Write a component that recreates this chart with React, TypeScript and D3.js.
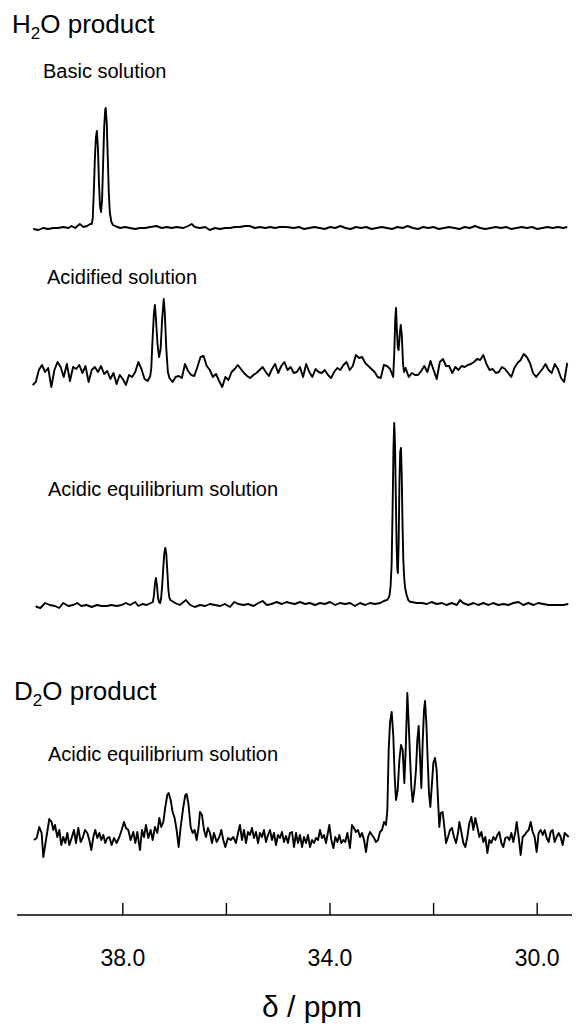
import * as d3 from "d3";

// [ppm, intensity]; intensity in arbitrary units above baseline
const basicSolution: [number, number][] = [
  [39.73, -1], [39.63, -2], [39.54, 0], [39.44, -1], [39.34, 0], [39.25, 0], [39.15, 1], [39.05, 0],
  [38.99, 2], [38.92, 0], [38.83, 4], [38.76, 1], [38.69, 2], [38.63, 4],
  [38.6, 4], [38.58, 10], [38.56, 35], [38.54, 68], [38.52, 90], [38.5, 97], [38.48, 80], [38.46, 45],
  [38.44, 22], [38.42, 16], [38.4, 28], [38.38, 65], [38.36, 100], [38.34, 118], [38.33, 120],
  [38.31, 105], [38.29, 70], [38.27, 35], [38.25, 15], [38.22, 6], [38.19, 3],
  [38.15, 2], [38.05, 0], [37.96, 1], [37.86, 0], [37.76, -1], [37.67, 0], [37.57, 0], [37.47, 1],
  [37.35, 2], [37.25, 0], [37.15, 1], [37.06, 0], [36.96, 1], [36.83, 0], [36.74, 2], [36.67, 4],
  [36.61, 1], [36.51, 0], [36.41, 1], [36.32, -2], [36.22, 0], [36.12, -1], [36.03, 0], [35.93, 0],
  [35.84, 1], [35.74, 1], [35.64, 2], [35.55, 2], [35.45, 0], [35.35, 1], [35.25, 0], [35.16, 1],
  [35.06, 0], [34.97, 1], [34.84, 1], [34.7, 0], [34.6, 1], [34.5, -1], [34.4, 0], [34.3, 1],
  [34.2, 0], [34.1, -1], [34.0, 1], [33.9, 0], [33.8, 2], [33.7, 0], [33.6, -1], [33.5, 1],
  [33.4, 0], [33.3, 1], [33.2, -1], [33.1, 0], [33.0, 1], [32.9, 0], [32.8, -1], [32.7, 1],
  [32.6, 0], [32.5, 2], [32.4, 0], [32.3, -1], [32.2, 1], [32.1, 0], [32.0, 1], [31.9, -1],
  [31.8, 0], [31.7, 1], [31.6, 0], [31.5, -1], [31.4, 1], [31.3, 0], [31.2, 2], [31.1, 0],
  [31.0, -1], [30.9, 0], [30.8, 1], [30.7, 0], [30.6, 1], [30.5, -1], [30.4, 0], [30.3, 1],
  [30.2, 0], [30.1, 1], [30.0, -1], [29.9, 0], [29.8, 1], [29.7, 0], [29.6, 1], [29.5, 0], [29.42, 1],
];

const acidifiedSolution: [number, number][] = [
  [39.74, -11], [39.68, -8], [39.62, 4], [39.56, 9], [39.5, 2], [39.44, 6], [39.38, -13], [39.32, 4],
  [39.26, 12], [39.2, 7], [39.14, -3], [39.08, 10], [39.02, -7], [38.96, 7], [38.9, 5], [38.84, 9],
  [38.78, 1], [38.72, 8], [38.66, -8], [38.6, 4], [38.54, 7], [38.48, 2], [38.42, 8], [38.36, 0],
  [38.3, 3], [38.24, -5], [38.18, 1], [38.12, -10], [38.06, -1], [38.0, -5], [37.94, -11], [37.88, -1],
  [37.82, -3], [37.76, 2], [37.7, 12], [37.64, 5], [37.58, -5], [37.52, -7],
  [37.47, -2], [37.45, 6], [37.43, 30], [37.4, 60], [37.38, 69], [37.36, 55], [37.33, 30], [37.3, 17],
  [37.27, 25], [37.24, 55], [37.21, 75], [37.19, 62], [37.16, 25], [37.13, 2],
  [37.1, -4], [37.04, -8], [36.98, -3], [36.92, -2], [36.86, -4], [36.8, 10], [36.74, 3], [36.68, -1],
  [36.62, -2], [36.56, 7], [36.5, 17], [36.44, 18], [36.38, 8], [36.32, 4], [36.26, -3], [36.2, 0],
  [36.14, -7], [36.08, -13], [36.02, -3], [35.96, -6], [35.9, 2], [35.84, 5], [35.78, 9], [35.72, 5],
  [35.66, 1], [35.6, -2], [35.54, -4], [35.48, -1], [35.42, 1], [35.36, 4], [35.3, 7], [35.24, 2],
  [35.18, -2], [35.12, 5], [35.06, 10], [35.0, 1], [34.94, 8], [34.88, 12], [34.82, 4], [34.76, 7],
  [34.7, 1], [34.64, 2], [34.58, 7], [34.52, -3], [34.46, 10], [34.4, 2], [34.34, -3], [34.28, 5],
  [34.22, 2], [34.16, 1], [34.1, 4], [34.04, -1], [33.98, -4], [33.92, 2], [33.86, 6], [33.8, 4],
  [33.74, 9], [33.68, 12], [33.62, 4], [33.56, 8], [33.5, 19], [33.44, 16], [33.38, 17], [33.32, 11],
  [33.26, 8], [33.2, 5], [33.14, 2], [33.08, -3], [33.02, -4], [32.96, 9], [32.9, 8], [32.84, 5],
  [32.78, -3], [32.76, 20], [32.74, 55], [32.725, 66], [32.71, 45], [32.69, 26], [32.675, 24],
  [32.655, 38], [32.635, 49], [32.615, 40], [32.59, 10], [32.57, 2],
  [32.54, 6], [32.48, -3], [32.42, 1], [32.36, -1], [32.3, -1], [32.24, 3], [32.18, 8], [32.12, 2],
  [32.06, 13], [32.0, 4], [31.94, -5], [31.88, 12], [31.82, 15], [31.76, 8], [31.7, 8], [31.64, 1],
  [31.58, 7], [31.52, 4], [31.46, 8], [31.4, 7], [31.34, 9], [31.28, 10], [31.22, 12], [31.16, 15],
  [31.1, 14], [31.04, 19], [30.98, 10], [30.92, 4], [30.86, 5], [30.8, 1], [30.74, 2], [30.68, 7],
  [30.62, 5], [30.56, 1], [30.5, -3], [30.44, 6], [30.38, 11], [30.32, 14], [30.26, 20], [30.2, 17],
  [30.14, 11], [30.08, 1], [30.02, -3], [29.96, 1], [29.9, 5], [29.84, 10], [29.78, 4], [29.72, 1],
  [29.66, 10], [29.6, 5], [29.54, -4], [29.48, -8], [29.42, 11],
];

const acidicEquilibriumH2O: [number, number][] = [
  [39.68, -2], [39.66, -3], [39.59, -4], [39.5, 1], [39.41, -1], [39.31, -2], [39.23, -4], [39.15, 1],
  [39.05, -2], [38.96, -1], [38.88, 1], [38.8, -2], [38.7, -1], [38.6, -3], [38.5, -1], [38.41, -2],
  [38.31, -2], [38.22, -1], [38.12, -2], [38.02, -1], [37.94, 1], [37.86, -1], [37.76, 2], [37.7, -2],
  [37.62, 0], [37.54, -1], [37.46, 1],
  [37.42, 2], [37.4, 8], [37.38, 20], [37.36, 26], [37.34, 18], [37.32, 6], [37.3, 2], [37.28, 1],
  [37.26, 6], [37.24, 18], [37.22, 35], [37.2, 50], [37.18, 56], [37.16, 50], [37.14, 32], [37.12, 14],
  [37.1, 6], [37.08, 4],
  [36.99, 1], [36.9, -1], [36.78, 4], [36.7, -1], [36.61, -3], [36.51, -1], [36.41, -2], [36.32, 0],
  [36.22, -1], [36.12, -2], [36.03, 0], [35.93, -3], [35.85, 2], [35.77, 0], [35.67, -1], [35.58, 0],
  [35.48, -2], [35.38, 1], [35.3, 3], [35.22, -1], [35.13, 0], [35.03, 2], [34.93, 0], [34.84, 2],
  [34.77, 1], [34.68, 0], [34.58, 2], [34.48, 0], [34.39, 1], [34.29, -1], [34.19, 1], [34.1, 0],
  [34.0, 2], [33.9, -1], [33.81, 1], [33.71, 0], [33.61, 1], [33.52, -2], [33.42, 1], [33.32, -1],
  [33.23, 1], [33.13, 0], [33.03, 1], [32.96, 3],
  [32.9, 4], [32.87, 6], [32.85, 9], [32.83, 18], [32.81, 40], [32.79, 100], [32.775, 155], [32.76, 181],
  [32.745, 160], [32.73, 110], [32.715, 60], [32.7, 35], [32.69, 31], [32.675, 60], [32.66, 120],
  [32.645, 152], [32.63, 156], [32.615, 130], [32.6, 80], [32.585, 45], [32.57, 28], [32.55, 16],
  [32.52, 9], [32.49, 4], [32.45, 2],
  [32.42, 2], [32.33, 1], [32.23, 1], [32.13, 0], [32.04, 2], [31.94, 0], [31.84, 1], [31.75, -1],
  [31.65, 1], [31.55, -1], [31.49, 4], [31.43, 1], [31.33, -1], [31.23, 1], [31.14, -1], [31.04, 1],
  [30.94, -1], [30.85, 1], [30.75, -1], [30.65, 0], [30.56, -1], [30.46, 1], [30.36, 2], [30.27, -1],
  [30.17, 1], [30.07, -1], [29.98, 1], [29.88, 0], [29.78, -1], [29.69, -1], [29.59, -1], [29.5, -1],
  [29.4, 0],
];

const acidicEquilibriumD2O: [number, number][] = [
  [39.715, 0], [39.663, 2], [39.612, 13], [39.567, 7], [39.535, -17], [39.483, 0], [39.419, 21],
  [39.374, 18], [39.342, 10], [39.309, 15], [39.264, 3], [39.226, 10], [39.187, -5], [39.148, 3],
  [39.11, -3], [39.071, 7], [39.033, -5], [38.988, 2], [38.943, 10], [38.904, -3], [38.859, 12],
  [38.814, -2], [38.775, 2], [38.73, 10], [38.685, 7], [38.647, 0], [38.608, -10], [38.569, 3],
  [38.531, 10], [38.492, 2], [38.453, 7], [38.415, 0], [38.376, 5], [38.338, -3], [38.299, 2],
  [38.26, 3], [38.215, -5], [38.17, 2], [38.119, -3], [38.067, 3], [38.022, 10], [37.977, 18],
  [37.939, 12], [37.894, 10], [37.849, 0], [37.797, 8], [37.758, -3], [37.72, 8], [37.668, -10],
  [37.63, 10], [37.591, 3], [37.553, 15], [37.507, 2], [37.462, 10], [37.424, 0], [37.379, 13],
  [37.334, 7], [37.295, 22], [37.257, 13], [37.218, 18], [37.179, 33], [37.141, 45], [37.115, 47],
  [37.076, 40], [37.038, 28], [36.999, 22], [36.961, 10], [36.922, -7], [36.883, 13], [36.832, 33],
  [36.793, 45], [36.768, 46], [36.735, 37], [36.69, 13], [36.652, 7], [36.613, 10], [36.574, 0],
  [36.536, 13], [36.51, 28], [36.471, 25], [36.433, 10], [36.394, 3], [36.356, 12], [36.317, 7],
  [36.278, -3], [36.24, 7], [36.188, -2], [36.137, 3], [36.098, 10], [36.06, 0], [36.021, -7],
  [35.97, 2], [35.918, 0], [35.867, 3], [35.815, -3], [35.776, 7], [35.738, 15], [35.699, 0],
  [35.661, 10], [35.622, -3], [35.583, 8], [35.545, 5], [35.506, 12], [35.468, 2], [35.429, 8],
  [35.39, -3], [35.352, 7], [35.313, 3], [35.275, 10], [35.236, -2], [35.197, 5], [35.159, 10],
  [35.12, 0], [35.082, 7], [35.043, -5], [35.004, 5], [34.966, 2], [34.927, 8], [34.888, -2],
  [34.85, 4], [34.811, -3], [34.773, 7],
  [34.733, 8], [34.695, -7], [34.656, 7], [34.618, -3], [34.579, 5], [34.54, -7], [34.502, 3],
  [34.463, -3], [34.425, 5], [34.386, -7], [34.347, 0], [34.309, -3], [34.27, 2], [34.231, 0],
  [34.193, 10], [34.154, 2], [34.116, 5], [34.077, -3], [34.038, 8], [34.013, 15], [33.974, 0],
  [33.935, -8], [33.897, 3], [33.858, -2], [33.82, 5], [33.781, -3], [33.742, 0], [33.704, -2],
  [33.665, 7], [33.614, -8], [33.575, 15], [33.537, 12], [33.498, 8], [33.459, 10], [33.421, 3],
  [33.382, 7], [33.343, 0], [33.305, -12], [33.266, 3], [33.228, 8], [33.189, 5], [33.15, 2],
  [33.112, -2], [33.073, 0], [33.035, 8], [32.996, 10], [32.957, 18], [32.919, 15], [32.893, 30],
  [32.867, 90], [32.842, 117], [32.809, 128], [32.777, 103], [32.751, 63], [32.726, 40], [32.693, 50],
  [32.661, 80], [32.629, 95], [32.597, 90], [32.565, 57], [32.539, 90], [32.507, 147], [32.481, 117],
  [32.455, 83], [32.43, 53], [32.404, 38], [32.372, 50], [32.34, 70], [32.314, 100], [32.288, 114],
  [32.262, 83], [32.237, 52], [32.211, 97], [32.185, 130], [32.166, 139], [32.14, 117], [32.114, 80],
  [32.089, 47], [32.063, 33], [32.031, 57], [32.005, 77], [31.973, 82], [31.941, 70], [31.915, 40],
  [31.889, 13], [31.863, 27], [31.825, 28], [31.786, 10], [31.76, -3], [31.722, 3], [31.683, 10],
  [31.645, 12], [31.606, 3], [31.567, -3], [31.529, 7], [31.503, 18], [31.464, 8], [31.426, -3],
  [31.387, -7], [31.349, 3], [31.31, 17], [31.271, 23], [31.233, 10], [31.194, 22], [31.156, 13],
  [31.117, 3], [31.078, 8], [31.04, -2], [31.001, 3], [30.962, -13], [30.924, 0], [30.885, -3],
  [30.847, 3], [30.808, 0], [30.769, 5], [30.731, 8], [30.692, -3], [30.654, -7], [30.615, 2],
  [30.576, 3], [30.538, 0], [30.499, 7], [30.461, -2], [30.422, 8], [30.396, 18], [30.358, 3],
  [30.319, -15], [30.28, 3], [30.242, 5], [30.203, 8], [30.165, 10], [30.126, 18], [30.087, 8],
  [30.049, 3], [30.01, -12], [29.972, 7], [29.933, 10], [29.894, 5], [29.856, 10], [29.817, 2],
  [29.779, -2], [29.74, 8], [29.701, 10], [29.663, -2], [29.624, 3], [29.585, 7], [29.547, 3],
  [29.508, -5], [29.47, 7], [29.431, 5], [29.392, 3],
];

const spectra = [basicSolution, acidifiedSolution, acidicEquilibriumH2O, acidicEquilibriumD2O];
const spectrumLabels = [
  "Basic solution",
  "Acidified solution",
  "Acidic equilibrium solution",
  "Acidic equilibrium solution",
];
const tickValues = [38, 36, 34, 32, 30];
const labeledTicks = [38, 34, 30];
const axisTitle = "δ / ppm";

const WIDTH = 580;
const HEIGHT = 1025;
const FONT = "'Liberation Sans', Arial, Helvetica, sans-serif";

export default function App() {
  // ppm axis runs right to left
  const xScale = d3.scaleLinear().domain([38, 30]).range([122.8, 537.2]);

  // baseline of each trace and where its label sits
  const baselines = [228, 374, 604, 840];
  const labelY = [78, 284, 496, 761];
  const labelX = [43, 47, 48, 48];

  const axisY = 915;
  const fmt = d3.format(".1f");

  return (
    <svg
      width={WIDTH}
      height={HEIGHT}
      style={{ position: "absolute", left: 0, top: 0, background: "#fff" }}
      fontFamily={FONT}
    >
      <rect width={WIDTH} height={HEIGHT} fill="#fff" />

      <text x={12} y={33} fontSize={26} fill="#000">
        H<tspan fontSize={17} dy={6}>2</tspan>
        <tspan dy={-6}>O product</tspan>
      </text>
      <text x={14} y={700} fontSize={26} fill="#000">
        D<tspan fontSize={17} dy={6}>2</tspan>
        <tspan dy={-6}>O product</tspan>
      </text>

      {spectra.map((data, i) => {
        const yScale = d3
          .scaleLinear()
          .domain([0, 100])
          .range([baselines[i], baselines[i] - 100]);
        const line = d3
          .line<[number, number]>()
          .x((d) => xScale(d[0]))
          .y((d) => yScale(d[1]));
        return (
          <g key={i}>
            <text x={labelX[i]} y={labelY[i]} fontSize={20} fill="#000">
              {spectrumLabels[i]}
            </text>
            <path
              d={line(data) ?? ""}
              fill="none"
              stroke="#000"
              strokeWidth={1.9}
              strokeLinejoin="round"
            />
          </g>
        );
      })}

      {/* x axis */}
      <line x1={17} x2={572} y1={axisY} y2={axisY} stroke="#000" strokeWidth={1.4} />
      {tickValues.map((t) => (
        <line
          key={t}
          x1={xScale(t)}
          x2={xScale(t)}
          y1={axisY}
          y2={axisY - 12}
          stroke="#000"
          strokeWidth={1.4}
        />
      ))}
      {labeledTicks.map((t) => (
        <text
          key={t}
          x={xScale(t)}
          y={966}
          fontSize={23}
          textAnchor="middle"
          fill="#000"
        >
          {fmt(t)}
        </text>
      ))}
      <text x={312} y={1017} fontSize={30} textAnchor="middle" fill="#000">
        {axisTitle}
      </text>
    </svg>
  );
}
